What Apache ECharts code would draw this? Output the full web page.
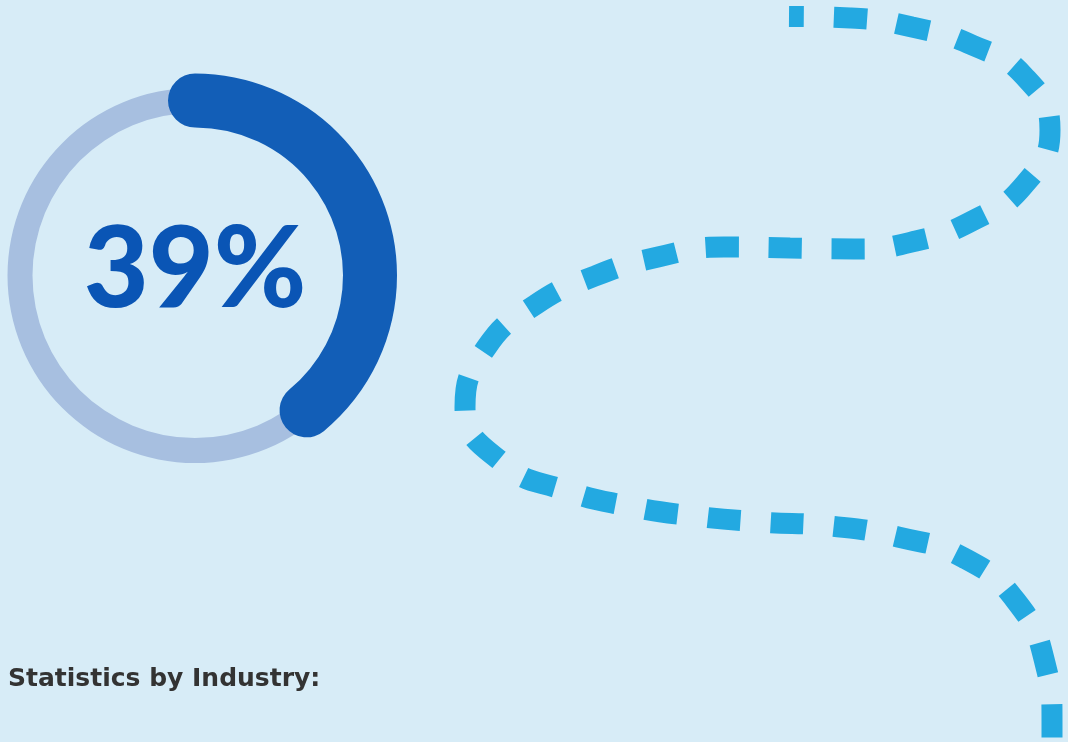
<!DOCTYPE html>
<html><head><meta charset="utf-8">
<script src="https://cdn.jsdelivr.net/npm/echarts@6/dist/echarts.min.js"></script>
<style>html,body{margin:0;padding:0;background:#d7ecf7;}#c{width:1068px;height:742px;}</style>
</head><body><div id="c"></div>
<script>
const percentValue = 39;
const titleText = 'Statistics by Industry:';
// decorative dashed path (x, y in page-like units)
const pathX = [789, 851, 912, 972, 1024, 1050, 1024, 974, 916, 854, 790, 724, 658, 595, 535, 486, 465, 504, 564, 628, 694, 761, 830, 898, 964, 1016, 1045, 1052, 1052];
const pathY = [16.5, 18, 27, 45, 76, 130, 185, 220, 241, 249, 248, 247, 257, 276, 305, 348, 407, 464, 490, 506, 516, 522, 526, 537, 558, 601, 663, 722, 760];

const chart = echarts.init(document.getElementById('c'), null, {renderer: 'canvas'});
const linePts = pathX.map((x, i) => [x, pathY[i]]);
chart.setOption({
  backgroundColor: '#d7ecf7',
  animation: false,
  title: {
    text: titleText, left: 3, top: 662,
    textStyle: {fontFamily: 'DejaVu Sans', fontWeight: 'bold', fontSize: 25, color: '#333333'}
  },
  grid: {left: 0, right: 0, top: 0, bottom: 0},
  xAxis: {type: 'value', min: 0, max: 1068, show: false},
  yAxis: {type: 'value', min: 0, max: 742, inverse: true, show: false},
  series: [
    {
      type: 'line', data: linePts, smooth: 0.5, symbol: 'none', silent: true,
      lineStyle: {color: '#23a9e1', width: 21, type: [33, 30], dashOffset: 18, cap: 'butt'}
    },
    {
      type: 'gauge', center: [195, 275.5], radius: 187.5,
      startAngle: 90, endAngle: -270, min: 0, max: 100,
      axisLine: {lineStyle: {width: 25, color: [[1, '#a7bfe0']]}},
      progress: {show: false}, pointer: {show: false}, axisTick: {show: false},
      splitLine: {show: false}, axisLabel: {show: false}, detail: {show: false}, title: {show: false},
      data: [{value: 0}]
    },
    {
      type: 'gauge', center: [195, 275.5], radius: 202,
      startAngle: 90, endAngle: -270, min: 0, max: 100,
      axisLine: {lineStyle: {width: 54, color: [[1, 'rgba(0,0,0,0)']]}},
      progress: {show: true, width: 54, roundCap: true, itemStyle: {color: '#125eb7'}},
      pointer: {show: false}, axisTick: {show: false}, splitLine: {show: false},
      axisLabel: {show: false}, title: {show: false},
      detail: {
        show: true, offsetCenter: [0, -5], formatter: '{value}%',
        fontFamily: 'Lato', fontWeight: 900, fontSize: 112, color: '#0a55b5'
      },
      data: [{value: percentValue}]
    }
  ]
});
</script></body></html>
